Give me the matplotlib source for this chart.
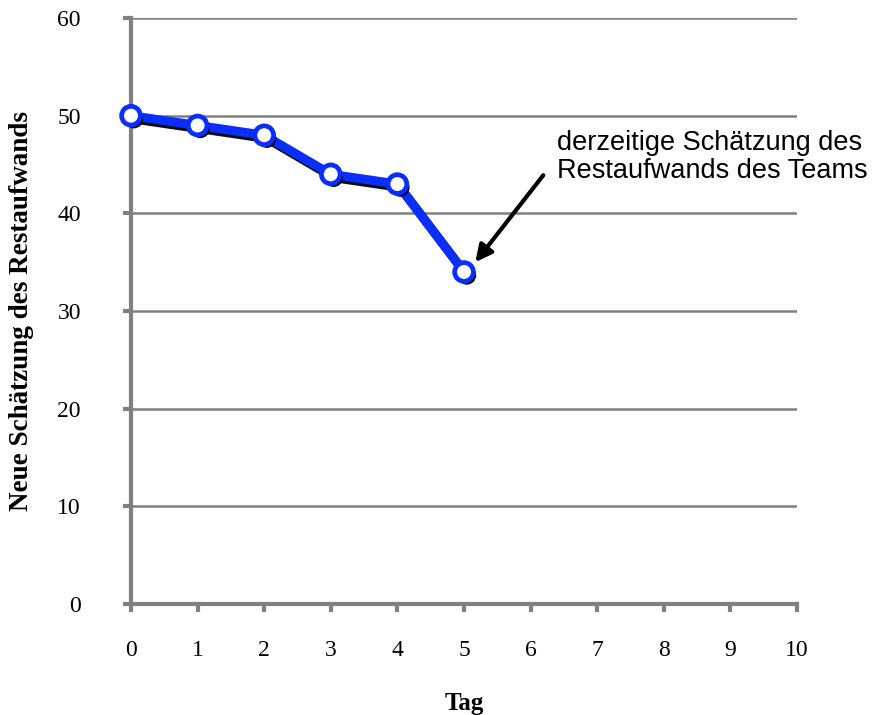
import matplotlib
matplotlib.use("Agg")
import matplotlib.pyplot as plt
import matplotlib.patheffects as pe

days = [0, 1, 2, 3, 4, 5]
estimate = [50, 49, 48, 44, 43, 34]
xticks = list(range(0, 11))
yticks = [0, 10, 20, 30, 40, 50, 60]

fig = plt.figure(figsize=(8.75, 7.15), dpi=100)
ax = fig.add_axes([0.1497, 0.1552, 0.7612, 0.8196])

gray = "#808080"
blue = "#0A2EFF"
serif = "Liberation Serif"

ax.set_xlim(0, 10)
ax.set_ylim(0, 60)
ax.set_xticks(xticks)
ax.set_yticks(yticks)
ax.grid(axis="y", color=gray, linewidth=1.8)
ax.set_axisbelow(True)
for s in ["top", "right"]:
    ax.spines[s].set_visible(False)
for s in ["left", "bottom"]:
    ax.spines[s].set_color(gray)
    ax.spines[s].set_linewidth(3)
ax.tick_params(axis="both", direction="out", color=gray, width=3, length=6,
               labelsize=17)
ax.tick_params(axis="y", pad=30)
ax.tick_params(axis="x", pad=20)
for lab in ax.get_xticklabels() + ax.get_yticklabels():
    lab.set_fontfamily(serif)

shadow = [pe.SimpleLineShadow(offset=(2.0, -2.4), shadow_color="black", alpha=0.95, rho=0.0),
          pe.Normal()]
ax.plot(days, estimate, color=blue, linewidth=6.5, solid_joinstyle="round",
        solid_capstyle="round", path_effects=shadow, zorder=3, clip_on=False)
ax.plot(days, estimate, linestyle="none", marker="o", markersize=13.5,
        markerfacecolor="white", markeredgecolor=blue, markeredgewidth=3.4,
        zorder=4, clip_on=False,
        path_effects=[pe.SimplePatchShadow(offset=(2.0, -2.4), shadow_rgbFace="black", alpha=0.95),
                      pe.Normal()])

ax.set_xlabel("Tag", fontfamily=serif, fontweight="bold", fontsize=18, va="center")
ax.xaxis.set_label_coords(0.5, -0.169)
ax.set_ylabel("Neue Schätzung des Restaufwands", fontfamily=serif,
              fontweight="bold", fontsize=19.5, va="center")
ax.yaxis.set_label_coords(-0.1637, 0.5)

ax.text(6.40, 45.75, "derzeitige Schätzung des\nRestaufwands des Teams",
        fontsize=19.5, fontfamily="Liberation Sans", ha="left", va="center",
        linespacing=1.12)
ax.annotate("", xy=(5.17, 35.0), xytext=(6.19, 43.9),
            arrowprops=dict(arrowstyle="-|>,head_length=1.0,head_width=0.5",
                            color="black", lw=3, shrinkA=0, shrinkB=0))

fig.savefig("out.png", dpi=100)
